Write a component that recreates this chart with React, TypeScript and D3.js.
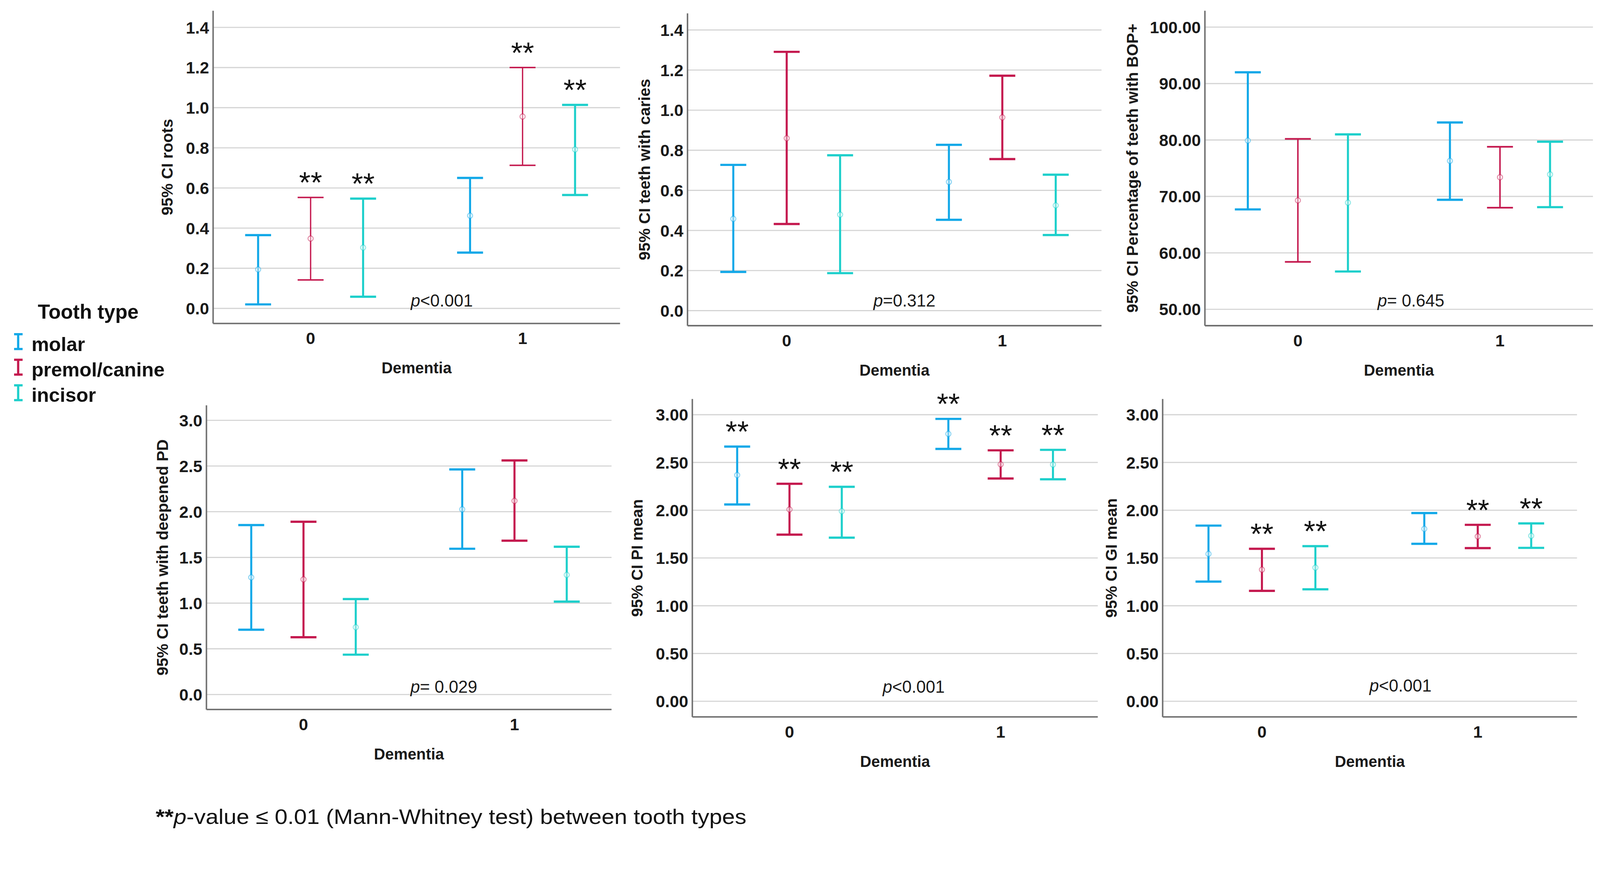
import React, { useEffect } from 'react';
import * as d3 from 'd3';

const toothTypes = ['molar', 'premol/canine', 'incisor'];
const toothColors = ['#12a8e8', '#c4184e', '#1dcfcb'];
const dementiaGroups = ['0', '1'];

// [dementia, tooth type, lower CI, mean, upper CI, ** marker]
type Row = [string, string, number, number, number, boolean];

const rootsCI: Row[] = [
  ['0', 'molar', 0.02, 0.194, 0.365, false],
  ['0', 'premol/canine', 0.142, 0.348, 0.553, true],
  ['0', 'incisor', 0.058, 0.303, 0.547, true],
  ['1', 'molar', 0.278, 0.462, 0.65, false],
  ['1', 'premol/canine', 0.713, 0.956, 1.2, true],
  ['1', 'incisor', 0.565, 0.792, 1.014, true],
];

const cariesCI: Row[] = [
  ['0', 'molar', 0.193, 0.458, 0.727, false],
  ['0', 'premol/canine', 0.432, 0.86, 1.291, false],
  ['0', 'incisor', 0.187, 0.479, 0.775, false],
  ['1', 'molar', 0.453, 0.642, 0.827, false],
  ['1', 'premol/canine', 0.756, 0.964, 1.172, false],
  ['1', 'incisor', 0.377, 0.525, 0.678, false],
];

const bopCI: Row[] = [
  ['0', 'molar', 67.7, 79.9, 92.0, false],
  ['0', 'premol/canine', 58.4, 69.3, 80.2, false],
  ['0', 'incisor', 56.7, 68.9, 81.0, false],
  ['1', 'molar', 69.4, 76.3, 83.1, false],
  ['1', 'premol/canine', 68.0, 73.4, 78.8, false],
  ['1', 'incisor', 68.1, 73.9, 79.7, false],
];

const pdCI: Row[] = [
  ['0', 'molar', 0.709, 1.282, 1.854, false],
  ['0', 'premol/canine', 0.627, 1.26, 1.89, false],
  ['0', 'incisor', 0.436, 0.736, 1.044, false],
  ['1', 'molar', 1.595, 2.026, 2.463, false],
  ['1', 'premol/canine', 1.683, 2.119, 2.561, false],
  ['1', 'incisor', 1.017, 1.309, 1.617, false],
];

const piCI: Row[] = [
  ['0', 'molar', 2.06, 2.368, 2.666, true],
  ['0', 'premol/canine', 1.744, 2.008, 2.277, true],
  ['0', 'incisor', 1.713, 1.99, 2.245, true],
  ['1', 'molar', 2.642, 2.799, 2.956, true],
  ['1', 'premol/canine', 2.332, 2.48, 2.627, true],
  ['1', 'incisor', 2.324, 2.478, 2.632, true],
];

const giCI: Row[] = [
  ['0', 'molar', 1.253, 1.543, 1.839, false],
  ['0', 'premol/canine', 1.156, 1.378, 1.596, true],
  ['0', 'incisor', 1.172, 1.399, 1.624, true],
  ['1', 'molar', 1.648, 1.805, 1.97, false],
  ['1', 'premol/canine', 1.603, 1.726, 1.847, true],
  ['1', 'incisor', 1.606, 1.732, 1.862, true],
];

const ticksTenths = [0, 0.2, 0.4, 0.6, 0.8, 1.0, 1.2, 1.4];
const ticksPercent = [50, 60, 70, 80, 90, 100];
const ticksHalves = [0, 0.5, 1.0, 1.5, 2.0, 2.5, 3.0];

const FONT = 'Liberation Sans, Arial, sans-serif';
const W = 4317;
const H = 2251;

const panels = [
  { title: '95% CI roots', rows: rootsCI, domain: [-0.075, 1.483], ticks: ticksTenths, fmt: '.1f',
    pSign: '<0.001', box: [575, 29, 1098, 844], pFrac: 0.562, pDy: 46, titleDx: -125, premolW: 3.5 },
  { title: '95% CI teeth with caries', rows: cariesCI, domain: [-0.075, 1.483], ticks: ticksTenths, fmt: '.1f',
    pSign: '=0.312', box: [1855, 36, 1117, 843], pFrac: 0.524, pDy: 52, titleDx: -117, premolW: 5.5 },
  { title: '95% CI Percentage of teeth with BOP+', rows: bopCI, domain: [47.1, 102.9], ticks: ticksPercent, fmt: '.2f',
    pSign: '= 0.645', box: [3251, 29, 1047, 850], pFrac: 0.531, pDy: 52, titleDx: -196, premolW: 4 },
  { title: '95% CI teeth with deepened PD', rows: pdCI, domain: [-0.164, 3.164], ticks: ticksHalves, fmt: '.1f',
    pSign: '= 0.029', box: [557, 1094, 1093, 821], pFrac: 0.586, pDy: 45, titleDx: -119, premolW: 5.5 },
  { title: '95% CI PI mean', rows: piCI, domain: [-0.164, 3.164], ticks: ticksHalves, fmt: '.2f',
    pSign: '<0.001', box: [1868, 1077, 1094, 858], pFrac: 0.546, pDy: 65, titleDx: -150, premolW: 5.5 },
  { title: '95% CI GI mean', rows: giCI, domain: [-0.164, 3.164], ticks: ticksHalves, fmt: '.2f',
    pSign: '<0.001', box: [3137, 1077, 1118, 858], pFrac: 0.574, pDy: 68, titleDx: -139, premolW: 5.5 },
];

const color = d3.scaleOrdinal<string, string>().domain(toothTypes).range(toothColors);

const Panel = ({ cfg }: { cfg: any }) => {
  const [x, y, w, h] = cfg.box;
  const yScale = d3.scaleLinear().domain(cfg.domain).range([y + h, y]);
  const xGroup = d3.scalePoint().domain(dementiaGroups).range([x, x + w]).padding(0.46);
  const xTooth = d3.scalePoint().domain(toothTypes).range([-0.129 * w, 0.129 * w]);
  const fmt = d3.format(cfg.fmt);
  const capHalf = 35;
  const bottom = y + h;

  return (
    <g>
      {cfg.ticks.map((t: number) => (
        <g key={t}>
          <line x1={x} x2={x + w} y1={yScale(t)} y2={yScale(t)} stroke="#d4d4d4" strokeWidth={3} />
          <text x={x - 11} y={yScale(t)} dy="0.36em" textAnchor="end" fontFamily={FONT}
            fontWeight="bold" fontSize={45} fill="#1a1a1a">{fmt(t)}</text>
        </g>
      ))}
      <line x1={x} x2={x} y1={y} y2={bottom} stroke="#707070" strokeWidth={4} />
      <line x1={x} x2={x + w} y1={bottom} y2={bottom} stroke="#707070" strokeWidth={4} />
      {dementiaGroups.map((g) => (
        <text key={g} x={xGroup(g)} y={bottom + 56} textAnchor="middle" fontFamily={FONT}
          fontWeight="bold" fontSize={45} fill="#1a1a1a">{g}</text>
      ))}
      <text x={x + w / 2} y={bottom + 135} textAnchor="middle" fontFamily={FONT}
        fontWeight="bold" fontSize={42} fill="#1a1a1a">Dementia</text>
      <text transform={`translate(${x + cfg.titleDx},${y + h / 2}) rotate(-90)`} textAnchor="middle"
        dy="0.36em" fontFamily={FONT} fontWeight="bold" fontSize={43} fill="#1a1a1a">{cfg.title}</text>
      <text x={x + w * cfg.pFrac} y={bottom - cfg.pDy} textAnchor="middle" fontFamily={FONT}
        fontSize={46} fill="#1a1a1a">
        <tspan fontStyle="italic">p</tspan>{cfg.pSign}
      </text>
      {cfg.rows.map((r: Row) => {
        const cx = (xGroup(r[0]) as number) + (xTooth(r[1]) as number);
        const c = color(r[1]);
        const sw = r[1] === 'premol/canine' ? cfg.premolW : 5.5;
        return (
          <g key={r[0] + r[1]}>
            <line x1={cx} x2={cx} y1={yScale(r[2])} y2={yScale(r[4])} stroke={c} strokeWidth={sw} />
            <line x1={cx - capHalf} x2={cx + capHalf} y1={yScale(r[4])} y2={yScale(r[4])} stroke={c} strokeWidth={sw + 0.5} />
            <line x1={cx - capHalf} x2={cx + capHalf} y1={yScale(r[2])} y2={yScale(r[2])} stroke={c} strokeWidth={sw + 0.5} />
            <circle cx={cx} cy={yScale(r[3])} r={7} fill="#ffffff" fillOpacity={0.45} stroke={c} strokeOpacity={0.5} strokeWidth={2.5} />
            {r[5] && (
              <text x={cx} y={yScale(r[4]) - 58 + 45} textAnchor="middle"
                fontFamily={FONT} fontSize={80} fill="#111">**</text>
            )}
          </g>
        );
      })}
    </g>
  );
};

const Legend = () => (
  <g>
    <text x={102} y={860} fontFamily={FONT} fontWeight="bold" fontSize={54} fill="#111">Tooth type</text>
    {toothTypes.map((t, i) => {
      const by = 947 + i * 69;
      const cy = by - 25;
      const c = color(t);
      return (
        <g key={t}>
          <line x1={49} x2={49} y1={cy - 20} y2={cy + 20} stroke={c} strokeWidth={6} />
          <line x1={38} x2={61} y1={cy - 20} y2={cy - 20} stroke={c} strokeWidth={6} />
          <line x1={38} x2={61} y1={cy + 20} y2={cy + 20} stroke={c} strokeWidth={6} />
          <text x={85} y={by} fontFamily={FONT} fontWeight="bold" fontSize={53} fill="#111">{t}</text>
        </g>
      );
    })}
  </g>
);

const App = () => {
  useEffect(() => {
    document.body.style.margin = '0';
    document.body.style.overflow = 'hidden';
  }, []);
  return (
    <svg viewBox={`0 0 ${W} ${H}`} preserveAspectRatio="xMinYMin meet"
      style={{ position: 'absolute', left: 0, top: 0, width: '100vw', height: '100vh', background: '#fff' }}>
      <rect width={W} height={H} fill="#fff" />
      {panels.map((p) => <Panel key={p.title} cfg={p} />)}
      <Legend />
      <text x={420} y={2224} fontFamily={FONT} fontSize={56} fill="#111" textLength={1594}
        lengthAdjust="spacingAndGlyphs">
        <tspan fontWeight="bold">**</tspan><tspan fontStyle="italic">p</tspan>-value ≤ 0.01 (Mann-Whitney test) between tooth types
      </text>
    </svg>
  );
};

export default App;
